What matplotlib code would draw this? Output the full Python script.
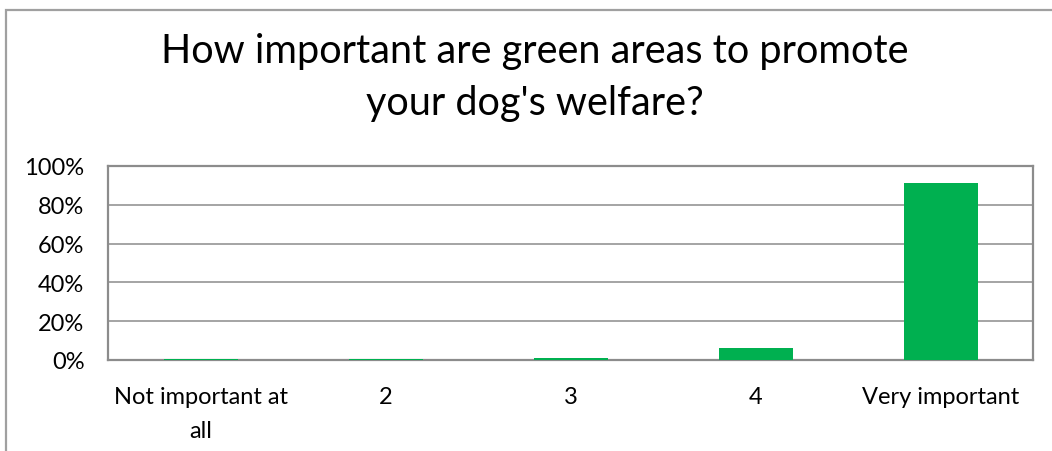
import matplotlib.pyplot as plt
from matplotlib.patches import Rectangle
from matplotlib.ticker import PercentFormatter

categories = ["Not important at\nall", "2", "3", "4", "Very important"]
shares = [0.004, 0.004, 0.011, 0.063, 0.91]
y_ticks = [0, 0.2, 0.4, 0.6, 0.8, 1.0]
title = "How important are green areas to promote\nyour dog's welfare?"

plt.rcParams['font.family'] = ['Lato', 'DejaVu Sans']

W, H = 1052, 452
fig = plt.figure(figsize=(W / 100, H / 100), dpi=100)
fig.patch.set_facecolor('white')

# chart frame, cut off on the right and bottom
fig.patches.append(Rectangle((6 / W, -0.1), 1.2, 1 - 10.5 / H + 0.1,
                             transform=fig.transFigure, fill=False,
                             edgecolor='#a0a0a0', linewidth=1.6))

ax = fig.add_axes([108 / W, 1 - 361 / H, (1033 - 108) / W, (361 - 167) / H])
x = range(len(categories))
ax.bar(x, shares, width=0.4, color='#00b050', zorder=3)

ax.set_xlim(-0.5, len(categories) - 0.5)
ax.set_ylim(0, 1)
ax.set_yticks(y_ticks)
ax.yaxis.set_major_formatter(PercentFormatter(1.0, decimals=0))
ax.set_xticks(list(x))
ax.set_xticklabels(categories, fontsize=17, linespacing=1.75)
ax.tick_params(axis='y', labelsize=17, length=0, pad=17)
ax.tick_params(axis='x', length=0, pad=19)
ax.grid(axis='y', color='#8c8c8c', linewidth=1.1, zorder=0)
for s in ax.spines.values():
    s.set_color('#8c8c8c')
    s.set_linewidth(1.6)

fig.text(535 / W, 1 - 78 / H, title, ha='center', va='center',
         fontsize=28.5, linespacing=1.5)

fig.savefig('out.png', dpi=100)
